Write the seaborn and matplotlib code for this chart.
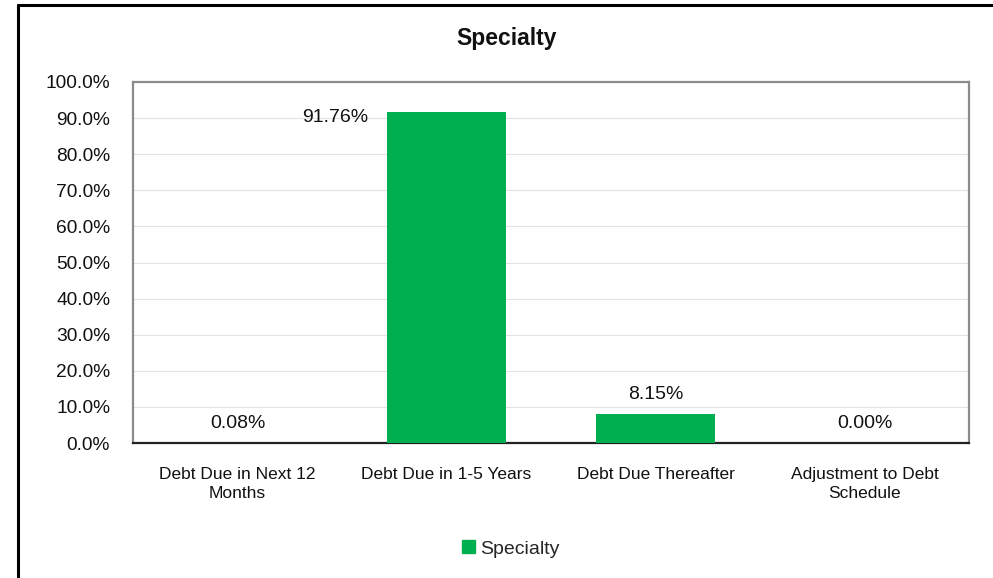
import matplotlib
matplotlib.use('Agg')
import matplotlib.pyplot as plt
import matplotlib.patches as mpatches
from matplotlib.lines import Line2D
from matplotlib.ticker import FuncFormatter, MultipleLocator
import pandas as pd
import seaborn as sns

categories = ['Debt Due in Next 12\nMonths', 'Debt Due in 1-5 Years',
              'Debt Due Thereafter', 'Adjustment to Debt\nSchedule']
values = [0.08, 91.76, 8.15, 0.00]
series_name = 'Specialty'

df = pd.DataFrame({'Category': categories, 'Value': values})

sns.set_style('white')
plt.rcParams['font.family'] = ['Liberation Sans', 'DejaVu Sans']

W, H = 993, 578
fig = plt.figure(figsize=(W / 100, H / 100), dpi=100)
ax = fig.add_axes([133 / W, 1 - 443 / H, (969 - 133) / W, (443 - 82) / H])

green = '#00B050'
sns.barplot(data=df, x='Category', y='Value', color=green, width=0.57,
            saturation=1, linewidth=0, ax=ax, zorder=3)

ax.set_ylim(0, 100)
ax.set_xlim(-0.5, 3.5)
ax.yaxis.set_major_locator(MultipleLocator(10))
ax.yaxis.set_major_formatter(FuncFormatter(lambda v, p: f'{v:.1f}%'))
ax.grid(axis='y', color='#e3e3e3', linewidth=0.8, zorder=0)
ax.set_xlabel('')
ax.set_ylabel('')
ax.tick_params(axis='y', labelsize=13.8, length=0, pad=16.5, labelcolor='#111111')
ax.tick_params(axis='x', labelsize=12.5, length=0, pad=17, labelcolor='#111111')
for lbl in ax.get_xticklabels():
    lbl.set_linespacing(1.4)
for s in ['left', 'top', 'right']:
    ax.spines[s].set_color('#8c8c8c')
    ax.spines[s].set_linewidth(1.6)
ax.spines['bottom'].set_color('#222222')
ax.spines['bottom'].set_linewidth(1.6)

# data labels
for i, v in enumerate(values):
    if i == 1:
        ax.annotate(f'{v:.2f}%', (i, v), xytext=(-80, -4.5), textcoords='offset points',
                    ha='center', va='center', fontsize=14, color='#111111')
    else:
        ax.annotate(f'{v:.2f}%', (i, v), xytext=(0, 14), textcoords='offset points',
                    ha='center', va='center', fontsize=14, color='#111111')

fig.text(507 / W, 1 - 39 / H, 'Specialty', ha='center', va='center',
         fontsize=16.5, fontweight='bold', color='#111111')

handle = mpatches.Patch(color=green, label=series_name)
fig.legend(handles=[handle], loc='center', bbox_to_anchor=(511 / W, 1 - 549 / H),
           frameon=False, fontsize=14, handlelength=0.65, handleheight=0.65,
           handletextpad=0.3)

# outer chart border
fig.add_artist(Line2D([18 / W, 18 / W], [0, 1 - 5 / H], color='black', linewidth=2.2,
                      transform=fig.transFigure))
fig.add_artist(Line2D([18 / W, 1], [1 - 5 / H, 1 - 5 / H], color='black', linewidth=2.2,
                      transform=fig.transFigure))

fig.savefig('out.png', dpi=100)
